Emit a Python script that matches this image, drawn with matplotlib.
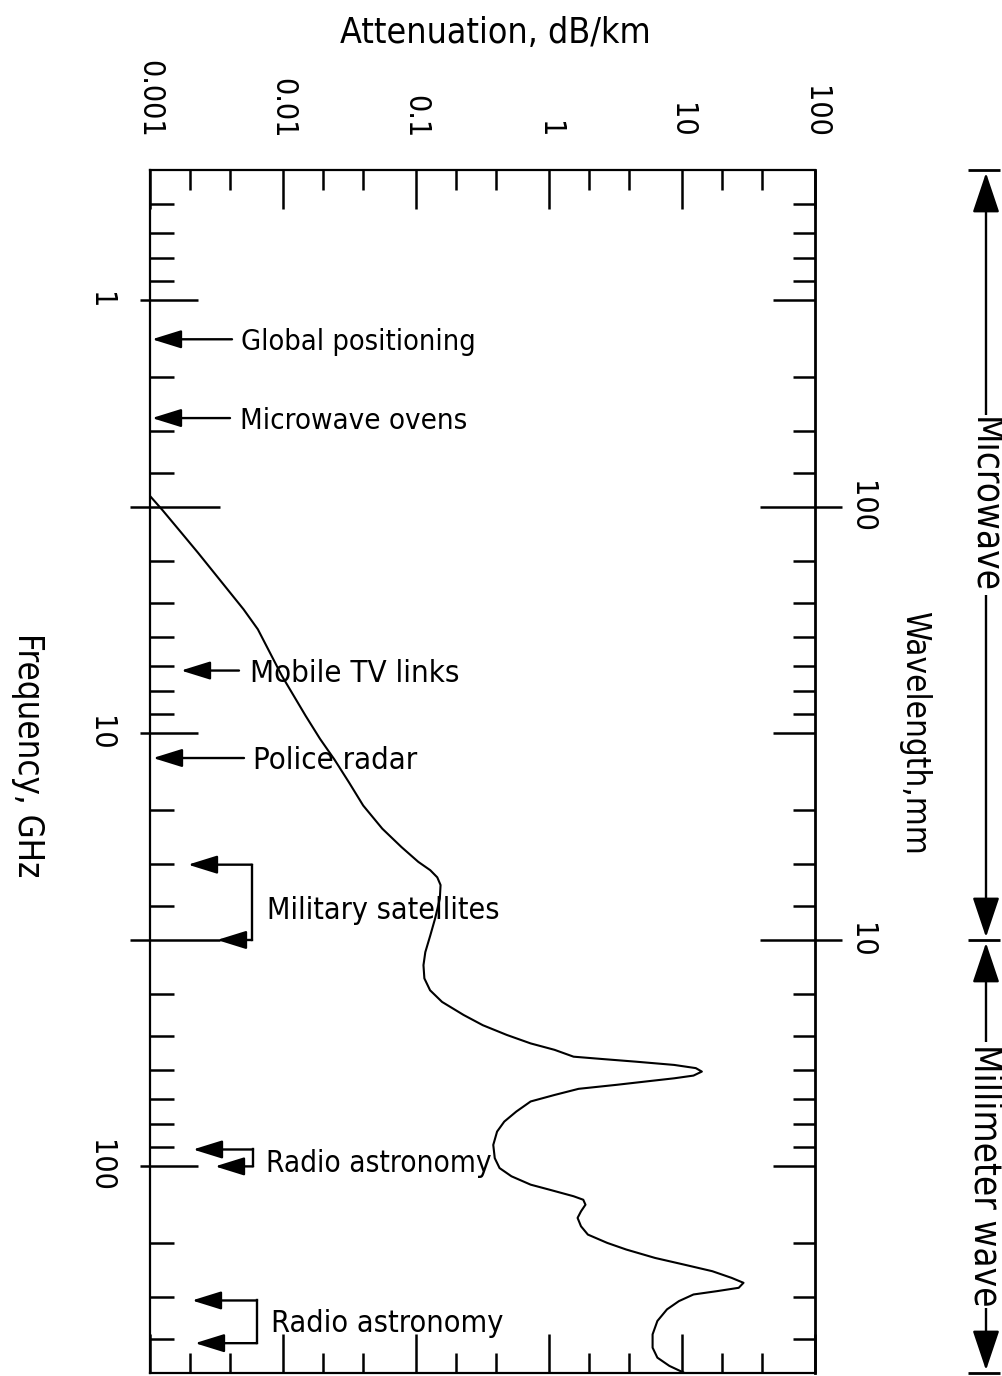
import matplotlib
matplotlib.use('Agg')
import matplotlib.pyplot as plt
from matplotlib import transforms
from matplotlib.ticker import FixedLocator, NullFormatter, NullLocator

# ---------------- data ----------------
freq_ghz = [2.83, 3.05, 3.44, 3.83, 5.17, 5.75, 7.36, 9.11,
            10.3, 11.5, 12.97, 14.68, 16.6, 18.3, 19.8, 20.7, 21.5, 22.4, 24.1,
            26.8, 29.3, 32.0, 34.3, 36.8, 39.2, 41.7, 44.7, 47.2, 49.7, 52.0, 53.8,
            55.8, 56.5, 57.3, 58.3, 59.3, 60.4, 61.7, 62.6, 63.5, 64.8, 66.2, 68.4,
            70.8, 74.7, 78.8, 83.1, 89.2, 95.7, 100.9, 105.4, 110.2, 113.2, 117.2,
            119.4, 122.6, 127.0, 131.5, 137.5, 143.7, 150.2, 155.6, 162.7, 168.5,
            174.6, 180.9, 185.7, 190.7, 194.1, 197.6, 204.7, 213.9, 227.5, 244.3,
            262.2, 276.5, 288.9, 299.4]
atten_db_km = [0.001, 0.00124, 0.00172, 0.0023, 0.00505, 0.00647,
               0.0098, 0.0148, 0.019, 0.0244, 0.0313, 0.0401, 0.0558,
               0.0777, 0.104, 0.128, 0.1445, 0.153, 0.151, 0.139, 0.128, 0.1175,
               0.1138, 0.1156, 0.1276, 0.157, 0.228, 0.318, 0.481, 0.728, 1.10, 1.53,
               2.52, 4.50, 8.73, 12.7, 14.1, 12.2, 8.73, 5.77, 3.23, 1.67, 1.10, 0.728,
               0.568, 0.461, 0.407, 0.381, 0.391, 0.425, 0.522, 0.728, 1.01, 1.53,
               1.81, 1.88, 1.74, 1.64, 1.74, 1.96, 2.74, 3.81, 6.27, 10.3, 16.9, 23.6,
               29.0, 26.7, 18.4, 12.2, 9.48, 7.71, 6.53, 6.01, 6.01, 6.53, 8.04, 10.3]

att_major = [0.001, 0.01, 0.1, 1, 10, 100]
att_labels = ['0.001', '0.01', '0.1', '1', '10', '100']
att_minor = [0.002, 0.004, 0.02, 0.04, 0.2, 0.4, 2, 4, 20, 40]

freq_major = [1, 10, 100]
freq_labels = ['1', '10', '100']
freq_minor = [0.6, 0.7, 0.8, 0.9, 1.5, 2, 2.5, 4, 5, 6, 7, 8, 9, 15, 20, 25,
              40, 50, 60, 70, 80, 90, 150, 200, 250]
wave_freq = [3, 30]          # 100 mm and 10 mm wavelength
wave_labels = ['100', '10']

band_edges = [0.5, 30, 300]
band_names = ['Microwave', 'Millimeter wave']

single_labels = ['Global positioning', 'Microwave ovens', 'Mobile TV links', 'Police radar']
single_freqs = [1.23, 1.87, 7.16, 11.4]
pair_labels = ['Military satellites', 'Radio astronomy', 'Radio astronomy']
pair_freqs = [(20.1, 30.0), (91.4, 100.0), (204, 256)]

# ---------------- figure ----------------
plt.rcParams['font.family'] = ['DejaVu Sans']
plt.rcParams['font.stretch'] = 'condensed'

FW, FH = 1003, 1376
fig = plt.figure(figsize=(FW / 100, FH / 100), dpi=100)
L, R, T, B = 150, 815, 170, 1373
ax = fig.add_axes([L / FW, 1 - B / FH, (R - L) / FW, (B - T) / FH])
ax.set_xscale('log')
ax.set_yscale('log')
ax.set_xlim(att_major[0], att_major[-1])
ax.set_ylim(band_edges[-1], band_edges[0])
for k, sp in ax.spines.items():
    sp.set_linewidth(2.0 if k == 'right' else 1.6)

W = R - L


def fx(px):
    return (px - L) / W


def fy(py):
    return 1 - py / FH


blend = transforms.blended_transform_factory(ax.transAxes, ax.transData)
blend_x = transforms.blended_transform_factory(ax.transData, ax.transAxes)
renderer = fig.canvas.get_renderer()


def size_for(s, target, base=20):
    t = fig.text(0, 0, s, fontsize=base)
    w = t.get_window_extent(renderer).width
    t.remove()
    return base * target / w


# top / bottom ticks
ax.xaxis.set_major_locator(FixedLocator(att_major))
ax.xaxis.set_minor_locator(FixedLocator(att_minor))
ax.xaxis.set_major_formatter(NullFormatter())
ax.xaxis.set_minor_formatter(NullFormatter())
ax.tick_params(axis='x', which='both', direction='in', top=True, bottom=True,
               width=1.8, color='k')
ax.tick_params(axis='x', which='major', length=28)
ax.tick_params(axis='x', which='minor', length=14.5)
ax.yaxis.set_major_locator(NullLocator())
ax.yaxis.set_minor_locator(NullLocator())


def hline(x0, x1, f, lw=1.8):
    ax.plot([fx(x0), fx(x1)], [f, f], transform=blend, color='k', lw=lw,
            clip_on=False, solid_capstyle='butt')


for f in freq_minor:
    hline(L, L + 24, f)
    hline(R - 22, R, f)
for f in freq_major:
    hline(L - 10, L + 48, f)
    hline(R - 42, R, f)
for f in wave_freq:
    hline(L - 20, L + 70, f)
    hline(R - 55, R + 27, f)

# curve
ax.plot(atten_db_km, freq_ghz, color='k', lw=1.5, solid_joinstyle='round')

# tick labels
tick_fs = size_for('0.001', 78)
for a, s in zip(att_major, att_labels):
    ax.text(a, 1 + (T - 138) / (B - T), s, transform=blend_x, rotation=-90,
            ha='center', va='bottom', fontsize=tick_fs)
for f, s in zip(freq_major, freq_labels):
    ax.text(fx(100), f, s, transform=blend, rotation=-90, ha='center',
            va='center', fontsize=tick_fs)
for f, s in zip(wave_freq, wave_labels):
    ax.text(fx(862), f, s, transform=blend, rotation=-90, ha='center',
            va='center', fontsize=tick_fs)

# axis titles
fig.text(495 / FW, fy(33), 'Attenuation, dB/km', ha='center', va='center',
         fontsize=size_for('Attenuation, dB/km', 311))
fig.text(28 / FW, fy(755), 'Frequency, GHz', rotation=-90, ha='center', va='center',
         fontsize=size_for('Frequency, GHz', 244))
fig.text(915 / FW, fy(733), 'Wavelength,mm', rotation=-90, ha='center', va='center',
         fontsize=size_for('Wavelength,mm', 243))

# annotations
arrow_kw = dict(arrowstyle='-|>,head_length=0.9,head_width=0.28', mutation_scale=20,
                lw=1.7, color='k', shrinkA=0, shrinkB=0)


def label(x_px, f, s, width_px):
    fs = size_for(s, width_px)
    tr = transforms.offset_copy(blend, fig=fig, x=0, y=-0.365 * fs, units='points')
    ax.text(fx(x_px), f, s, transform=tr, ha='left', va='baseline', fontsize=fs)


single_tip = [152, 152, 181, 153]
single_tail = [232, 230, 239, 244]
single_text = [241, 240, 250, 253]
single_w = [234, 227, 210, 165]
for s, f, tp, tl, tx, w in zip(single_labels, single_freqs, single_tip, single_tail,
                               single_text, single_w):
    ax.annotate('', xy=(fx(tp), f), xycoords=blend, xytext=(fx(tl), f),
                textcoords=blend, arrowprops=arrow_kw, annotation_clip=False)
    label(tx, f, s, w)

pair_tips = [(188, 217), (193, 215), (192, 195)]
pair_brk = [252, 253, 257]
pair_text = [267, 266, 271]
pair_text_y = [25.3, 97.3, 227]
pair_w = [232, 225, 232]
for s, (f1, f2), (t1, t2), bx, tx, ty, w in zip(pair_labels, pair_freqs, pair_tips,
                                                 pair_brk, pair_text, pair_text_y, pair_w):
    for f, tp in ((f1, t1), (f2, t2)):
        ax.annotate('', xy=(fx(tp), f), xycoords=blend, xytext=(fx(bx), f),
                    textcoords=blend, arrowprops=arrow_kw, annotation_clip=False)
    ax.plot([fx(bx), fx(bx)], [f1, f2], transform=blend, color='k', lw=1.7,
            clip_on=False)
    label(tx, ty, s, w)

# band dimension line on the right
xd = fx(986)
for f in band_edges:
    hline(968, 1000, f, lw=2.0)
band_text_y = [505, 1175]
band_fs = size_for('Millimeter wave', 262)
dim_kw = dict(arrowstyle='<|-|>,head_length=1.25,head_width=0.42', mutation_scale=20,
              lw=1.7, color='k', shrinkA=2, shrinkB=2)
for (f0, f1), name, ty in zip(zip(band_edges[:-1], band_edges[1:]), band_names,
                              band_text_y):
    ax.annotate('', xy=(xd, f0), xycoords=blend, xytext=(xd, f1), textcoords=blend,
                arrowprops=dim_kw, annotation_clip=False)
    fig.text(985 / FW, fy(ty), name, rotation=-90, ha='center', va='center',
             fontsize=band_fs, bbox=dict(fc='white', ec='none', pad=1.5))

fig.savefig('out.png', dpi=100)
